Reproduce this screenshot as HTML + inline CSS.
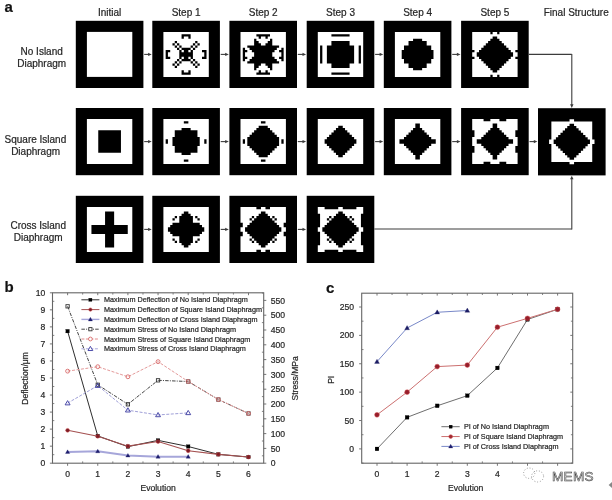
<!DOCTYPE html>
<html><head><meta charset="utf-8"><title>Diaphragm topology evolution</title>
<style>
html,body{margin:0;padding:0;background:#fff;width:612px;height:500px;overflow:hidden}
svg{display:block;font-family:'Liberation Sans',Arial,sans-serif}
text{stroke:#333;stroke-width:0.22px}
</style></head><body><div id="wrap">
<svg width="612" height="500" viewBox="0 0 612 500">
<rect width="612" height="500" fill="#fff"/>
<rect x="75.80" y="20.80" width="67.6" height="67.2" fill="#000"/>
<rect x="86.90" y="31.90" width="45.40" height="45.00" fill="#fff"/>
<rect x="152.30" y="20.80" width="67.6" height="67.2" fill="#000"/>
<g transform="translate(163.40,31.90)"><path fill="#fff" d="M0.00,0.00H45.40V2.25H0.00ZM0.00,2.25H18.16V4.50H0.00ZM27.24,2.25H45.40V4.50H27.24ZM0.00,4.50H18.16V6.75H0.00ZM20.43,4.50H24.97V6.75H20.43ZM27.24,4.50H45.40V6.75H27.24ZM0.00,6.75H45.40V9.00H0.00ZM0.00,9.00H11.35V11.25H0.00ZM13.62,9.00H31.78V11.25H13.62ZM34.05,9.00H45.40V11.25H34.05ZM0.00,11.25H9.08V13.50H0.00ZM11.35,11.25H13.62V13.50H11.35ZM15.89,11.25H29.51V13.50H15.89ZM31.78,11.25H34.05V13.50H31.78ZM36.32,11.25H45.40V13.50H36.32ZM0.00,13.50H11.35V15.75H0.00ZM13.62,13.50H15.89V15.75H13.62ZM18.16,13.50H27.24V15.75H18.16ZM29.51,13.50H31.78V15.75H29.51ZM34.05,13.50H45.40V15.75H34.05ZM0.00,15.75H13.62V18.00H0.00ZM15.89,15.75H18.16V18.00H15.89ZM27.24,15.75H29.51V18.00H27.24ZM31.78,15.75H45.40V18.00H31.78ZM0.00,18.00H2.27V20.25H0.00ZM6.81,18.00H15.89V20.25H6.81ZM18.16,18.00H20.43V20.25H18.16ZM24.97,18.00H27.24V20.25H24.97ZM29.51,18.00H38.59V20.25H29.51ZM43.13,18.00H45.40V20.25H43.13ZM0.00,20.25H2.27V22.50H0.00ZM4.54,20.25H15.89V22.50H4.54ZM29.51,20.25H40.86V22.50H29.51ZM43.13,20.25H45.40V22.50H43.13ZM0.00,22.50H2.27V24.75H0.00ZM4.54,22.50H15.89V24.75H4.54ZM29.51,22.50H40.86V24.75H29.51ZM43.13,22.50H45.40V24.75H43.13ZM0.00,24.75H2.27V27.00H0.00ZM6.81,24.75H15.89V27.00H6.81ZM18.16,24.75H20.43V27.00H18.16ZM24.97,24.75H27.24V27.00H24.97ZM29.51,24.75H38.59V27.00H29.51ZM43.13,24.75H45.40V27.00H43.13ZM0.00,27.00H13.62V29.25H0.00ZM15.89,27.00H18.16V29.25H15.89ZM27.24,27.00H29.51V29.25H27.24ZM31.78,27.00H45.40V29.25H31.78ZM0.00,29.25H11.35V31.50H0.00ZM13.62,29.25H15.89V31.50H13.62ZM18.16,29.25H27.24V31.50H18.16ZM29.51,29.25H31.78V31.50H29.51ZM34.05,29.25H45.40V31.50H34.05ZM0.00,31.50H9.08V33.75H0.00ZM11.35,31.50H13.62V33.75H11.35ZM15.89,31.50H29.51V33.75H15.89ZM31.78,31.50H34.05V33.75H31.78ZM36.32,31.50H45.40V33.75H36.32ZM0.00,33.75H11.35V36.00H0.00ZM13.62,33.75H31.78V36.00H13.62ZM34.05,33.75H45.40V36.00H34.05ZM0.00,36.00H45.40V38.25H0.00ZM0.00,38.25H18.16V40.50H0.00ZM20.43,38.25H24.97V40.50H20.43ZM27.24,38.25H45.40V40.50H27.24ZM0.00,40.50H18.16V42.75H0.00ZM27.24,40.50H45.40V42.75H27.24ZM0.00,42.75H45.40V45.00H0.00Z"/></g>
<rect x="229.40" y="20.80" width="67.6" height="67.2" fill="#000"/>
<g transform="translate(240.50,31.90)"><path fill="#fff" d="M0.00,0.00H45.40V2.25H0.00ZM0.00,2.25H15.89V4.50H0.00ZM29.51,2.25H45.40V4.50H29.51ZM0.00,4.50H18.16V6.75H0.00ZM20.43,4.50H24.97V6.75H20.43ZM27.24,4.50H45.40V6.75H27.24ZM0.00,6.75H13.62V9.00H0.00ZM15.89,6.75H29.51V9.00H15.89ZM31.78,6.75H45.40V9.00H31.78ZM0.00,9.00H13.62V11.25H0.00ZM18.16,9.00H27.24V11.25H18.16ZM31.78,9.00H45.40V11.25H31.78ZM0.00,11.25H13.62V13.50H0.00ZM20.43,11.25H24.97V13.50H20.43ZM31.78,11.25H45.40V13.50H31.78ZM0.00,13.50H6.81V15.75H0.00ZM38.59,13.50H45.40V15.75H38.59ZM0.00,15.75H2.27V18.00H0.00ZM4.54,15.75H9.08V18.00H4.54ZM36.32,15.75H40.86V18.00H36.32ZM43.13,15.75H45.40V18.00H43.13ZM0.00,18.00H2.27V20.25H0.00ZM6.81,18.00H11.35V20.25H6.81ZM34.05,18.00H38.59V20.25H34.05ZM43.13,18.00H45.40V20.25H43.13ZM0.00,20.25H2.27V22.50H0.00ZM4.54,20.25H13.62V22.50H4.54ZM31.78,20.25H40.86V22.50H31.78ZM43.13,20.25H45.40V22.50H43.13ZM0.00,22.50H2.27V24.75H0.00ZM4.54,22.50H13.62V24.75H4.54ZM31.78,22.50H40.86V24.75H31.78ZM43.13,22.50H45.40V24.75H43.13ZM0.00,24.75H2.27V27.00H0.00ZM6.81,24.75H11.35V27.00H6.81ZM34.05,24.75H38.59V27.00H34.05ZM43.13,24.75H45.40V27.00H43.13ZM0.00,27.00H2.27V29.25H0.00ZM4.54,27.00H9.08V29.25H4.54ZM36.32,27.00H40.86V29.25H36.32ZM43.13,27.00H45.40V29.25H43.13ZM0.00,29.25H6.81V31.50H0.00ZM38.59,29.25H45.40V31.50H38.59ZM0.00,31.50H13.62V33.75H0.00ZM20.43,31.50H24.97V33.75H20.43ZM31.78,31.50H45.40V33.75H31.78ZM0.00,33.75H13.62V36.00H0.00ZM18.16,33.75H27.24V36.00H18.16ZM31.78,33.75H45.40V36.00H31.78ZM0.00,36.00H13.62V38.25H0.00ZM15.89,36.00H29.51V38.25H15.89ZM31.78,36.00H45.40V38.25H31.78ZM0.00,38.25H18.16V40.50H0.00ZM20.43,38.25H24.97V40.50H20.43ZM27.24,38.25H45.40V40.50H27.24ZM0.00,40.50H15.89V42.75H0.00ZM29.51,40.50H45.40V42.75H29.51ZM0.00,42.75H45.40V45.00H0.00Z"/></g>
<rect x="306.70" y="20.80" width="67.6" height="67.2" fill="#000"/>
<g transform="translate(317.80,31.90)"><path fill="#fff" d="M0.00,0.00H45.40V2.25H0.00ZM0.00,2.25H13.62V4.50H0.00ZM31.78,2.25H45.40V4.50H31.78ZM0.00,4.50H45.40V6.75H0.00ZM0.00,6.75H45.40V9.00H0.00ZM0.00,9.00H13.62V11.25H0.00ZM31.78,9.00H45.40V11.25H31.78ZM0.00,11.25H13.62V13.50H0.00ZM31.78,11.25H45.40V13.50H31.78ZM0.00,13.50H2.27V15.75H0.00ZM4.54,13.50H9.08V15.75H4.54ZM36.32,13.50H40.86V15.75H36.32ZM43.13,13.50H45.40V15.75H43.13ZM0.00,15.75H2.27V18.00H0.00ZM4.54,15.75H9.08V18.00H4.54ZM36.32,15.75H40.86V18.00H36.32ZM43.13,15.75H45.40V18.00H43.13ZM0.00,18.00H2.27V20.25H0.00ZM4.54,18.00H9.08V20.25H4.54ZM36.32,18.00H40.86V20.25H36.32ZM43.13,18.00H45.40V20.25H43.13ZM0.00,20.25H2.27V22.50H0.00ZM4.54,20.25H9.08V22.50H4.54ZM36.32,20.25H40.86V22.50H36.32ZM43.13,20.25H45.40V22.50H43.13ZM0.00,22.50H2.27V24.75H0.00ZM4.54,22.50H9.08V24.75H4.54ZM36.32,22.50H40.86V24.75H36.32ZM43.13,22.50H45.40V24.75H43.13ZM0.00,24.75H2.27V27.00H0.00ZM4.54,24.75H9.08V27.00H4.54ZM36.32,24.75H40.86V27.00H36.32ZM43.13,24.75H45.40V27.00H43.13ZM0.00,27.00H2.27V29.25H0.00ZM4.54,27.00H9.08V29.25H4.54ZM36.32,27.00H40.86V29.25H36.32ZM43.13,27.00H45.40V29.25H43.13ZM0.00,29.25H2.27V31.50H0.00ZM4.54,29.25H9.08V31.50H4.54ZM36.32,29.25H40.86V31.50H36.32ZM43.13,29.25H45.40V31.50H43.13ZM0.00,31.50H13.62V33.75H0.00ZM31.78,31.50H45.40V33.75H31.78ZM0.00,33.75H13.62V36.00H0.00ZM31.78,33.75H45.40V36.00H31.78ZM0.00,36.00H45.40V38.25H0.00ZM0.00,38.25H45.40V40.50H0.00ZM0.00,40.50H13.62V42.75H0.00ZM31.78,40.50H45.40V42.75H31.78ZM0.00,42.75H45.40V45.00H0.00Z"/></g>
<rect x="383.80" y="20.80" width="67.6" height="67.2" fill="#000"/>
<g transform="translate(394.90,31.90)"><path fill="#fff" d="M0.00,0.00H45.40V2.25H0.00ZM0.00,2.25H45.40V4.50H0.00ZM0.00,4.50H45.40V6.75H0.00ZM0.00,6.75H18.16V9.00H0.00ZM27.24,6.75H45.40V9.00H27.24ZM0.00,9.00H13.62V11.25H0.00ZM31.78,9.00H45.40V11.25H31.78ZM0.00,11.25H13.62V13.50H0.00ZM31.78,11.25H45.40V13.50H31.78ZM0.00,13.50H9.08V15.75H0.00ZM36.32,13.50H45.40V15.75H36.32ZM0.00,15.75H9.08V18.00H0.00ZM36.32,15.75H45.40V18.00H36.32ZM0.00,18.00H6.81V20.25H0.00ZM38.59,18.00H45.40V20.25H38.59ZM0.00,20.25H6.81V22.50H0.00ZM38.59,20.25H45.40V22.50H38.59ZM0.00,22.50H6.81V24.75H0.00ZM38.59,22.50H45.40V24.75H38.59ZM0.00,24.75H6.81V27.00H0.00ZM38.59,24.75H45.40V27.00H38.59ZM0.00,27.00H9.08V29.25H0.00ZM36.32,27.00H45.40V29.25H36.32ZM0.00,29.25H9.08V31.50H0.00ZM36.32,29.25H45.40V31.50H36.32ZM0.00,31.50H13.62V33.75H0.00ZM31.78,31.50H45.40V33.75H31.78ZM0.00,33.75H13.62V36.00H0.00ZM31.78,33.75H45.40V36.00H31.78ZM0.00,36.00H18.16V38.25H0.00ZM27.24,36.00H45.40V38.25H27.24ZM0.00,38.25H45.40V40.50H0.00ZM0.00,40.50H45.40V42.75H0.00ZM0.00,42.75H45.40V45.00H0.00Z"/></g>
<rect x="461.10" y="20.80" width="67.6" height="67.2" fill="#000"/>
<g transform="translate(472.20,31.90)"><path fill="#fff" d="M0.00,0.00H18.16V2.25H0.00ZM20.43,0.00H24.97V2.25H20.43ZM27.24,0.00H45.40V2.25H27.24ZM0.00,2.25H45.40V4.50H0.00ZM0.00,4.50H20.43V6.75H0.00ZM24.97,4.50H45.40V6.75H24.97ZM0.00,6.75H18.16V9.00H0.00ZM27.24,6.75H45.40V9.00H27.24ZM0.00,9.00H15.89V11.25H0.00ZM29.51,9.00H45.40V11.25H29.51ZM0.00,11.25H13.62V13.50H0.00ZM31.78,11.25H45.40V13.50H31.78ZM0.00,13.50H11.35V15.75H0.00ZM34.05,13.50H45.40V15.75H34.05ZM0.00,15.75H9.08V18.00H0.00ZM36.32,15.75H45.40V18.00H36.32ZM2.27,18.00H6.81V20.25H2.27ZM38.59,18.00H43.13V20.25H38.59ZM0.00,20.25H4.54V22.50H0.00ZM40.86,20.25H45.40V22.50H40.86ZM0.00,22.50H4.54V24.75H0.00ZM40.86,22.50H45.40V24.75H40.86ZM2.27,24.75H6.81V27.00H2.27ZM38.59,24.75H43.13V27.00H38.59ZM0.00,27.00H9.08V29.25H0.00ZM36.32,27.00H45.40V29.25H36.32ZM0.00,29.25H11.35V31.50H0.00ZM34.05,29.25H45.40V31.50H34.05ZM0.00,31.50H13.62V33.75H0.00ZM31.78,31.50H45.40V33.75H31.78ZM0.00,33.75H15.89V36.00H0.00ZM29.51,33.75H45.40V36.00H29.51ZM0.00,36.00H18.16V38.25H0.00ZM27.24,36.00H45.40V38.25H27.24ZM0.00,38.25H20.43V40.50H0.00ZM24.97,38.25H45.40V40.50H24.97ZM0.00,40.50H45.40V42.75H0.00ZM0.00,42.75H18.16V45.00H0.00ZM20.43,42.75H24.97V45.00H20.43ZM27.24,42.75H45.40V45.00H27.24Z"/></g>
<rect x="75.80" y="108.00" width="67.6" height="67.2" fill="#000"/>
<g transform="translate(86.90,119.10)"><path fill="#fff" d="M0.00,0.00H45.40V2.25H0.00ZM0.00,2.25H45.40V4.50H0.00ZM0.00,4.50H45.40V6.75H0.00ZM0.00,6.75H45.40V9.00H0.00ZM0.00,9.00H45.40V11.25H0.00ZM0.00,11.25H11.35V13.50H0.00ZM34.05,11.25H45.40V13.50H34.05ZM0.00,13.50H11.35V15.75H0.00ZM34.05,13.50H45.40V15.75H34.05ZM0.00,15.75H11.35V18.00H0.00ZM34.05,15.75H45.40V18.00H34.05ZM0.00,18.00H11.35V20.25H0.00ZM34.05,18.00H45.40V20.25H34.05ZM0.00,20.25H11.35V22.50H0.00ZM34.05,20.25H45.40V22.50H34.05ZM0.00,22.50H11.35V24.75H0.00ZM34.05,22.50H45.40V24.75H34.05ZM0.00,24.75H11.35V27.00H0.00ZM34.05,24.75H45.40V27.00H34.05ZM0.00,27.00H11.35V29.25H0.00ZM34.05,27.00H45.40V29.25H34.05ZM0.00,29.25H11.35V31.50H0.00ZM34.05,29.25H45.40V31.50H34.05ZM0.00,31.50H11.35V33.75H0.00ZM34.05,31.50H45.40V33.75H34.05ZM0.00,33.75H45.40V36.00H0.00ZM0.00,36.00H45.40V38.25H0.00ZM0.00,38.25H45.40V40.50H0.00ZM0.00,40.50H45.40V42.75H0.00ZM0.00,42.75H45.40V45.00H0.00Z"/></g>
<rect x="152.30" y="108.00" width="67.6" height="67.2" fill="#000"/>
<g transform="translate(163.40,119.10)"><path fill="#fff" d="M0.00,0.00H45.40V2.25H0.00ZM0.00,2.25H20.43V4.50H0.00ZM24.97,2.25H45.40V4.50H24.97ZM0.00,4.50H45.40V6.75H0.00ZM0.00,6.75H45.40V9.00H0.00ZM0.00,9.00H18.16V11.25H0.00ZM27.24,9.00H45.40V11.25H27.24ZM0.00,11.25H11.35V13.50H0.00ZM34.05,11.25H45.40V13.50H34.05ZM0.00,13.50H11.35V15.75H0.00ZM34.05,13.50H45.40V15.75H34.05ZM0.00,15.75H11.35V18.00H0.00ZM34.05,15.75H45.40V18.00H34.05ZM0.00,18.00H9.08V20.25H0.00ZM36.32,18.00H45.40V20.25H36.32ZM0.00,20.25H2.27V22.50H0.00ZM4.54,20.25H9.08V22.50H4.54ZM36.32,20.25H40.86V22.50H36.32ZM43.13,20.25H45.40V22.50H43.13ZM0.00,22.50H2.27V24.75H0.00ZM4.54,22.50H9.08V24.75H4.54ZM36.32,22.50H40.86V24.75H36.32ZM43.13,22.50H45.40V24.75H43.13ZM0.00,24.75H9.08V27.00H0.00ZM36.32,24.75H45.40V27.00H36.32ZM0.00,27.00H11.35V29.25H0.00ZM34.05,27.00H45.40V29.25H34.05ZM0.00,29.25H11.35V31.50H0.00ZM34.05,29.25H45.40V31.50H34.05ZM0.00,31.50H11.35V33.75H0.00ZM34.05,31.50H45.40V33.75H34.05ZM0.00,33.75H18.16V36.00H0.00ZM27.24,33.75H45.40V36.00H27.24ZM0.00,36.00H45.40V38.25H0.00ZM0.00,38.25H45.40V40.50H0.00ZM0.00,40.50H20.43V42.75H0.00ZM24.97,40.50H45.40V42.75H24.97ZM0.00,42.75H45.40V45.00H0.00Z"/></g>
<rect x="229.40" y="108.00" width="67.6" height="67.2" fill="#000"/>
<g transform="translate(240.50,119.10)"><path fill="#fff" d="M0.00,0.00H45.40V2.25H0.00ZM0.00,2.25H20.43V4.50H0.00ZM24.97,2.25H45.40V4.50H24.97ZM0.00,4.50H45.40V6.75H0.00ZM0.00,6.75H18.16V9.00H0.00ZM27.24,6.75H45.40V9.00H27.24ZM0.00,9.00H15.89V11.25H0.00ZM29.51,9.00H45.40V11.25H29.51ZM0.00,11.25H13.62V13.50H0.00ZM31.78,11.25H45.40V13.50H31.78ZM0.00,13.50H11.35V15.75H0.00ZM34.05,13.50H45.40V15.75H34.05ZM0.00,15.75H9.08V18.00H0.00ZM36.32,15.75H45.40V18.00H36.32ZM0.00,18.00H6.81V20.25H0.00ZM38.59,18.00H45.40V20.25H38.59ZM0.00,20.25H2.27V22.50H0.00ZM4.54,20.25H6.81V22.50H4.54ZM38.59,20.25H40.86V22.50H38.59ZM43.13,20.25H45.40V22.50H43.13ZM0.00,22.50H2.27V24.75H0.00ZM4.54,22.50H6.81V24.75H4.54ZM38.59,22.50H40.86V24.75H38.59ZM43.13,22.50H45.40V24.75H43.13ZM0.00,24.75H6.81V27.00H0.00ZM38.59,24.75H45.40V27.00H38.59ZM0.00,27.00H9.08V29.25H0.00ZM36.32,27.00H45.40V29.25H36.32ZM0.00,29.25H11.35V31.50H0.00ZM34.05,29.25H45.40V31.50H34.05ZM0.00,31.50H13.62V33.75H0.00ZM31.78,31.50H45.40V33.75H31.78ZM0.00,33.75H15.89V36.00H0.00ZM29.51,33.75H45.40V36.00H29.51ZM0.00,36.00H18.16V38.25H0.00ZM27.24,36.00H45.40V38.25H27.24ZM0.00,38.25H45.40V40.50H0.00ZM0.00,40.50H20.43V42.75H0.00ZM24.97,40.50H45.40V42.75H24.97ZM0.00,42.75H45.40V45.00H0.00Z"/></g>
<rect x="306.70" y="108.00" width="67.6" height="67.2" fill="#000"/>
<g transform="translate(317.80,119.10)"><path fill="#fff" d="M0.00,0.00H45.40V2.25H0.00ZM0.00,2.25H45.40V4.50H0.00ZM0.00,4.50H45.40V6.75H0.00ZM0.00,6.75H20.43V9.00H0.00ZM24.97,6.75H45.40V9.00H24.97ZM0.00,9.00H18.16V11.25H0.00ZM27.24,9.00H45.40V11.25H27.24ZM0.00,11.25H15.89V13.50H0.00ZM29.51,11.25H45.40V13.50H29.51ZM0.00,13.50H13.62V15.75H0.00ZM31.78,13.50H45.40V15.75H31.78ZM0.00,15.75H11.35V18.00H0.00ZM34.05,15.75H45.40V18.00H34.05ZM0.00,18.00H9.08V20.25H0.00ZM36.32,18.00H45.40V20.25H36.32ZM0.00,20.25H6.81V22.50H0.00ZM38.59,20.25H45.40V22.50H38.59ZM0.00,22.50H6.81V24.75H0.00ZM38.59,22.50H45.40V24.75H38.59ZM0.00,24.75H9.08V27.00H0.00ZM36.32,24.75H45.40V27.00H36.32ZM0.00,27.00H11.35V29.25H0.00ZM34.05,27.00H45.40V29.25H34.05ZM0.00,29.25H13.62V31.50H0.00ZM31.78,29.25H45.40V31.50H31.78ZM0.00,31.50H15.89V33.75H0.00ZM29.51,31.50H45.40V33.75H29.51ZM0.00,33.75H18.16V36.00H0.00ZM27.24,33.75H45.40V36.00H27.24ZM0.00,36.00H20.43V38.25H0.00ZM24.97,36.00H45.40V38.25H24.97ZM0.00,38.25H45.40V40.50H0.00ZM0.00,40.50H45.40V42.75H0.00ZM0.00,42.75H45.40V45.00H0.00Z"/></g>
<rect x="383.80" y="108.00" width="67.6" height="67.2" fill="#000"/>
<g transform="translate(394.90,119.10)"><path fill="#fff" d="M0.00,0.00H45.40V2.25H0.00ZM0.00,2.25H45.40V4.50H0.00ZM0.00,4.50H20.43V6.75H0.00ZM24.97,4.50H45.40V6.75H24.97ZM0.00,6.75H20.43V9.00H0.00ZM24.97,6.75H45.40V9.00H24.97ZM0.00,9.00H18.16V11.25H0.00ZM27.24,9.00H45.40V11.25H27.24ZM0.00,11.25H15.89V13.50H0.00ZM29.51,11.25H45.40V13.50H29.51ZM0.00,13.50H13.62V15.75H0.00ZM31.78,13.50H45.40V15.75H31.78ZM0.00,15.75H11.35V18.00H0.00ZM34.05,15.75H45.40V18.00H34.05ZM0.00,18.00H9.08V20.25H0.00ZM36.32,18.00H45.40V20.25H36.32ZM0.00,20.25H4.54V22.50H0.00ZM40.86,20.25H45.40V22.50H40.86ZM0.00,22.50H4.54V24.75H0.00ZM40.86,22.50H45.40V24.75H40.86ZM0.00,24.75H9.08V27.00H0.00ZM36.32,24.75H45.40V27.00H36.32ZM0.00,27.00H11.35V29.25H0.00ZM34.05,27.00H45.40V29.25H34.05ZM0.00,29.25H13.62V31.50H0.00ZM31.78,29.25H45.40V31.50H31.78ZM0.00,31.50H15.89V33.75H0.00ZM29.51,31.50H45.40V33.75H29.51ZM0.00,33.75H18.16V36.00H0.00ZM27.24,33.75H45.40V36.00H27.24ZM0.00,36.00H20.43V38.25H0.00ZM24.97,36.00H45.40V38.25H24.97ZM0.00,38.25H20.43V40.50H0.00ZM24.97,38.25H45.40V40.50H24.97ZM0.00,40.50H45.40V42.75H0.00ZM0.00,42.75H45.40V45.00H0.00Z"/></g>
<rect x="461.10" y="108.00" width="67.6" height="67.2" fill="#000"/>
<g transform="translate(472.20,119.10)"><path fill="#fff" d="M0.00,0.00H11.35V2.25H0.00ZM18.16,0.00H27.24V2.25H18.16ZM34.05,0.00H45.40V2.25H34.05ZM0.00,2.25H45.40V4.50H0.00ZM0.00,4.50H20.43V6.75H0.00ZM24.97,4.50H45.40V6.75H24.97ZM0.00,6.75H20.43V9.00H0.00ZM24.97,6.75H45.40V9.00H24.97ZM0.00,9.00H18.16V11.25H0.00ZM27.24,9.00H45.40V11.25H27.24ZM2.27,11.25H15.89V13.50H2.27ZM29.51,11.25H43.13V13.50H29.51ZM2.27,13.50H13.62V15.75H2.27ZM31.78,13.50H43.13V15.75H31.78ZM2.27,15.75H11.35V18.00H2.27ZM34.05,15.75H43.13V18.00H34.05ZM0.00,18.00H9.08V20.25H0.00ZM36.32,18.00H45.40V20.25H36.32ZM0.00,20.25H4.54V22.50H0.00ZM40.86,20.25H45.40V22.50H40.86ZM0.00,22.50H4.54V24.75H0.00ZM40.86,22.50H45.40V24.75H40.86ZM0.00,24.75H9.08V27.00H0.00ZM36.32,24.75H45.40V27.00H36.32ZM2.27,27.00H11.35V29.25H2.27ZM34.05,27.00H43.13V29.25H34.05ZM2.27,29.25H13.62V31.50H2.27ZM31.78,29.25H43.13V31.50H31.78ZM2.27,31.50H15.89V33.75H2.27ZM29.51,31.50H43.13V33.75H29.51ZM0.00,33.75H18.16V36.00H0.00ZM27.24,33.75H45.40V36.00H27.24ZM0.00,36.00H20.43V38.25H0.00ZM24.97,36.00H45.40V38.25H24.97ZM0.00,38.25H20.43V40.50H0.00ZM24.97,38.25H45.40V40.50H24.97ZM0.00,40.50H45.40V42.75H0.00ZM0.00,42.75H11.35V45.00H0.00ZM18.16,42.75H27.24V45.00H18.16ZM34.05,42.75H45.40V45.00H34.05Z"/></g>
<rect x="75.80" y="195.80" width="67.6" height="67.2" fill="#000"/>
<g transform="translate(86.90,206.90)"><path fill="#fff" d="M0.00,0.00H45.40V2.25H0.00ZM0.00,2.25H45.40V4.50H0.00ZM0.00,4.50H18.16V6.75H0.00ZM27.24,4.50H45.40V6.75H27.24ZM0.00,6.75H18.16V9.00H0.00ZM27.24,6.75H45.40V9.00H27.24ZM0.00,9.00H18.16V11.25H0.00ZM27.24,9.00H45.40V11.25H27.24ZM0.00,11.25H18.16V13.50H0.00ZM27.24,11.25H45.40V13.50H27.24ZM0.00,13.50H18.16V15.75H0.00ZM27.24,13.50H45.40V15.75H27.24ZM0.00,15.75H18.16V18.00H0.00ZM27.24,15.75H45.40V18.00H27.24ZM0.00,18.00H4.54V20.25H0.00ZM40.86,18.00H45.40V20.25H40.86ZM0.00,20.25H4.54V22.50H0.00ZM40.86,20.25H45.40V22.50H40.86ZM0.00,22.50H4.54V24.75H0.00ZM40.86,22.50H45.40V24.75H40.86ZM0.00,24.75H4.54V27.00H0.00ZM40.86,24.75H45.40V27.00H40.86ZM0.00,27.00H18.16V29.25H0.00ZM27.24,27.00H45.40V29.25H27.24ZM0.00,29.25H18.16V31.50H0.00ZM27.24,29.25H45.40V31.50H27.24ZM0.00,31.50H18.16V33.75H0.00ZM27.24,31.50H45.40V33.75H27.24ZM0.00,33.75H18.16V36.00H0.00ZM27.24,33.75H45.40V36.00H27.24ZM0.00,36.00H18.16V38.25H0.00ZM27.24,36.00H45.40V38.25H27.24ZM0.00,38.25H18.16V40.50H0.00ZM27.24,38.25H45.40V40.50H27.24ZM0.00,40.50H45.40V42.75H0.00ZM0.00,42.75H45.40V45.00H0.00Z"/></g>
<rect x="152.30" y="195.80" width="67.6" height="67.2" fill="#000"/>
<g transform="translate(163.40,206.90)"><path fill="#fff" d="M0.00,0.00H45.40V2.25H0.00ZM0.00,2.25H45.40V4.50H0.00ZM0.00,4.50H20.43V6.75H0.00ZM24.97,4.50H45.40V6.75H24.97ZM0.00,6.75H18.16V9.00H0.00ZM27.24,6.75H45.40V9.00H27.24ZM0.00,9.00H11.35V11.25H0.00ZM13.62,9.00H15.89V11.25H13.62ZM29.51,9.00H31.78V11.25H29.51ZM34.05,9.00H45.40V11.25H34.05ZM0.00,11.25H9.08V13.50H0.00ZM11.35,11.25H15.89V13.50H11.35ZM29.51,11.25H34.05V13.50H29.51ZM36.32,11.25H45.40V13.50H36.32ZM0.00,13.50H15.89V15.75H0.00ZM29.51,13.50H45.40V15.75H29.51ZM0.00,15.75H9.08V18.00H0.00ZM36.32,15.75H45.40V18.00H36.32ZM0.00,18.00H6.81V20.25H0.00ZM38.59,18.00H45.40V20.25H38.59ZM0.00,20.25H4.54V22.50H0.00ZM40.86,20.25H45.40V22.50H40.86ZM0.00,22.50H4.54V24.75H0.00ZM40.86,22.50H45.40V24.75H40.86ZM0.00,24.75H6.81V27.00H0.00ZM38.59,24.75H45.40V27.00H38.59ZM0.00,27.00H9.08V29.25H0.00ZM36.32,27.00H45.40V29.25H36.32ZM0.00,29.25H15.89V31.50H0.00ZM29.51,29.25H45.40V31.50H29.51ZM0.00,31.50H9.08V33.75H0.00ZM11.35,31.50H15.89V33.75H11.35ZM29.51,31.50H34.05V33.75H29.51ZM36.32,31.50H45.40V33.75H36.32ZM0.00,33.75H11.35V36.00H0.00ZM13.62,33.75H15.89V36.00H13.62ZM29.51,33.75H31.78V36.00H29.51ZM34.05,33.75H45.40V36.00H34.05ZM0.00,36.00H18.16V38.25H0.00ZM27.24,36.00H45.40V38.25H27.24ZM0.00,38.25H20.43V40.50H0.00ZM24.97,38.25H45.40V40.50H24.97ZM0.00,40.50H45.40V42.75H0.00ZM0.00,42.75H45.40V45.00H0.00Z"/></g>
<rect x="229.40" y="195.80" width="67.6" height="67.2" fill="#000"/>
<g transform="translate(240.50,206.90)"><path fill="#fff" d="M0.00,0.00H15.89V2.25H0.00ZM20.43,0.00H24.97V2.25H20.43ZM29.51,0.00H45.40V2.25H29.51ZM0.00,2.25H45.40V4.50H0.00ZM0.00,4.50H20.43V6.75H0.00ZM24.97,4.50H45.40V6.75H24.97ZM0.00,6.75H18.16V9.00H0.00ZM27.24,6.75H45.40V9.00H27.24ZM0.00,9.00H11.35V11.25H0.00ZM13.62,9.00H15.89V11.25H13.62ZM29.51,9.00H31.78V11.25H29.51ZM34.05,9.00H45.40V11.25H34.05ZM0.00,11.25H9.08V13.50H0.00ZM11.35,11.25H13.62V13.50H11.35ZM31.78,11.25H34.05V13.50H31.78ZM36.32,11.25H45.40V13.50H36.32ZM0.00,13.50H11.35V15.75H0.00ZM34.05,13.50H45.40V15.75H34.05ZM2.27,15.75H9.08V18.00H2.27ZM36.32,15.75H43.13V18.00H36.32ZM2.27,18.00H6.81V20.25H2.27ZM38.59,18.00H43.13V20.25H38.59ZM0.00,20.25H4.54V22.50H0.00ZM40.86,20.25H45.40V22.50H40.86ZM0.00,22.50H4.54V24.75H0.00ZM40.86,22.50H45.40V24.75H40.86ZM2.27,24.75H6.81V27.00H2.27ZM38.59,24.75H43.13V27.00H38.59ZM2.27,27.00H9.08V29.25H2.27ZM36.32,27.00H43.13V29.25H36.32ZM0.00,29.25H11.35V31.50H0.00ZM34.05,29.25H45.40V31.50H34.05ZM0.00,31.50H9.08V33.75H0.00ZM11.35,31.50H13.62V33.75H11.35ZM31.78,31.50H34.05V33.75H31.78ZM36.32,31.50H45.40V33.75H36.32ZM0.00,33.75H11.35V36.00H0.00ZM13.62,33.75H15.89V36.00H13.62ZM29.51,33.75H31.78V36.00H29.51ZM34.05,33.75H45.40V36.00H34.05ZM0.00,36.00H18.16V38.25H0.00ZM27.24,36.00H45.40V38.25H27.24ZM0.00,38.25H20.43V40.50H0.00ZM24.97,38.25H45.40V40.50H24.97ZM0.00,40.50H45.40V42.75H0.00ZM0.00,42.75H15.89V45.00H0.00ZM20.43,42.75H24.97V45.00H20.43ZM29.51,42.75H45.40V45.00H29.51Z"/></g>
<rect x="306.70" y="195.80" width="67.6" height="67.2" fill="#000"/>
<g transform="translate(317.80,206.90)"><path fill="#fff" d="M0.00,0.00H6.81V2.25H0.00ZM20.43,0.00H24.97V2.25H20.43ZM38.59,0.00H45.40V2.25H38.59ZM0.00,2.25H45.40V4.50H0.00ZM0.00,4.50H20.43V6.75H0.00ZM24.97,4.50H45.40V6.75H24.97ZM2.27,6.75H18.16V9.00H2.27ZM27.24,6.75H43.13V9.00H27.24ZM2.27,9.00H11.35V11.25H2.27ZM13.62,9.00H15.89V11.25H13.62ZM29.51,9.00H31.78V11.25H29.51ZM34.05,9.00H43.13V11.25H34.05ZM2.27,11.25H9.08V13.50H2.27ZM11.35,11.25H13.62V13.50H11.35ZM31.78,11.25H34.05V13.50H31.78ZM36.32,11.25H43.13V13.50H36.32ZM2.27,13.50H11.35V15.75H2.27ZM34.05,13.50H43.13V15.75H34.05ZM2.27,15.75H9.08V18.00H2.27ZM36.32,15.75H43.13V18.00H36.32ZM2.27,18.00H6.81V20.25H2.27ZM38.59,18.00H43.13V20.25H38.59ZM0.00,20.25H4.54V22.50H0.00ZM40.86,20.25H45.40V22.50H40.86ZM0.00,22.50H4.54V24.75H0.00ZM40.86,22.50H45.40V24.75H40.86ZM2.27,24.75H6.81V27.00H2.27ZM38.59,24.75H43.13V27.00H38.59ZM2.27,27.00H9.08V29.25H2.27ZM36.32,27.00H43.13V29.25H36.32ZM2.27,29.25H11.35V31.50H2.27ZM34.05,29.25H43.13V31.50H34.05ZM2.27,31.50H9.08V33.75H2.27ZM11.35,31.50H13.62V33.75H11.35ZM31.78,31.50H34.05V33.75H31.78ZM36.32,31.50H43.13V33.75H36.32ZM2.27,33.75H11.35V36.00H2.27ZM13.62,33.75H15.89V36.00H13.62ZM29.51,33.75H31.78V36.00H29.51ZM34.05,33.75H43.13V36.00H34.05ZM2.27,36.00H18.16V38.25H2.27ZM27.24,36.00H43.13V38.25H27.24ZM0.00,38.25H20.43V40.50H0.00ZM24.97,38.25H45.40V40.50H24.97ZM0.00,40.50H45.40V42.75H0.00ZM0.00,42.75H6.81V45.00H0.00ZM20.43,42.75H24.97V45.00H20.43ZM38.59,42.75H45.40V45.00H38.59Z"/></g>
<rect x="538.00" y="108.20" width="67.6" height="67.2" fill="#000"/>
<g transform="translate(549.10,119.30)"><path fill="#fff" d="M20.43,0.00H24.97V2.25H20.43ZM2.27,2.25H43.13V4.50H2.27ZM2.27,4.50H20.43V6.75H2.27ZM24.97,4.50H43.13V6.75H24.97ZM2.27,6.75H18.16V9.00H2.27ZM27.24,6.75H43.13V9.00H27.24ZM2.27,9.00H15.89V11.25H2.27ZM29.51,9.00H43.13V11.25H29.51ZM2.27,11.25H13.62V13.50H2.27ZM31.78,11.25H43.13V13.50H31.78ZM2.27,13.50H11.35V15.75H2.27ZM34.05,13.50H43.13V15.75H34.05ZM2.27,15.75H9.08V18.00H2.27ZM36.32,15.75H43.13V18.00H36.32ZM2.27,18.00H6.81V20.25H2.27ZM38.59,18.00H43.13V20.25H38.59ZM0.00,20.25H4.54V22.50H0.00ZM40.86,20.25H45.40V22.50H40.86ZM0.00,22.50H4.54V24.75H0.00ZM40.86,22.50H45.40V24.75H40.86ZM2.27,24.75H6.81V27.00H2.27ZM38.59,24.75H43.13V27.00H38.59ZM2.27,27.00H9.08V29.25H2.27ZM36.32,27.00H43.13V29.25H36.32ZM2.27,29.25H11.35V31.50H2.27ZM34.05,29.25H43.13V31.50H34.05ZM2.27,31.50H13.62V33.75H2.27ZM31.78,31.50H43.13V33.75H31.78ZM2.27,33.75H15.89V36.00H2.27ZM29.51,33.75H43.13V36.00H29.51ZM2.27,36.00H18.16V38.25H2.27ZM27.24,36.00H43.13V38.25H27.24ZM2.27,38.25H20.43V40.50H2.27ZM24.97,38.25H43.13V40.50H24.97ZM2.27,40.50H43.13V42.75H2.27ZM20.43,42.75H24.97V45.00H20.43Z"/></g>
<line x1="144.20" y1="54.40" x2="149.20" y2="54.40" stroke="#3c3c3c" stroke-width="1.1"/>
<path d="M148.10,52.70 L151.70,54.40 L148.10,56.10 Z" fill="#3c3c3c"/>
<line x1="220.70" y1="54.40" x2="226.30" y2="54.40" stroke="#3c3c3c" stroke-width="1.1"/>
<path d="M225.20,52.70 L228.80,54.40 L225.20,56.10 Z" fill="#3c3c3c"/>
<line x1="297.80" y1="54.40" x2="303.60" y2="54.40" stroke="#3c3c3c" stroke-width="1.1"/>
<path d="M302.50,52.70 L306.10,54.40 L302.50,56.10 Z" fill="#3c3c3c"/>
<line x1="375.10" y1="54.40" x2="380.70" y2="54.40" stroke="#3c3c3c" stroke-width="1.1"/>
<path d="M379.60,52.70 L383.20,54.40 L379.60,56.10 Z" fill="#3c3c3c"/>
<line x1="452.20" y1="54.40" x2="458.00" y2="54.40" stroke="#3c3c3c" stroke-width="1.1"/>
<path d="M456.90,52.70 L460.50,54.40 L456.90,56.10 Z" fill="#3c3c3c"/>
<line x1="144.20" y1="141.60" x2="149.20" y2="141.60" stroke="#3c3c3c" stroke-width="1.1"/>
<path d="M148.10,139.90 L151.70,141.60 L148.10,143.30 Z" fill="#3c3c3c"/>
<line x1="220.70" y1="141.60" x2="226.30" y2="141.60" stroke="#3c3c3c" stroke-width="1.1"/>
<path d="M225.20,139.90 L228.80,141.60 L225.20,143.30 Z" fill="#3c3c3c"/>
<line x1="297.80" y1="141.60" x2="303.60" y2="141.60" stroke="#3c3c3c" stroke-width="1.1"/>
<path d="M302.50,139.90 L306.10,141.60 L302.50,143.30 Z" fill="#3c3c3c"/>
<line x1="375.10" y1="141.60" x2="380.70" y2="141.60" stroke="#3c3c3c" stroke-width="1.1"/>
<path d="M379.60,139.90 L383.20,141.60 L379.60,143.30 Z" fill="#3c3c3c"/>
<line x1="452.20" y1="141.60" x2="458.00" y2="141.60" stroke="#3c3c3c" stroke-width="1.1"/>
<path d="M456.90,139.90 L460.50,141.60 L456.90,143.30 Z" fill="#3c3c3c"/>
<line x1="144.20" y1="229.40" x2="149.20" y2="229.40" stroke="#3c3c3c" stroke-width="1.1"/>
<path d="M148.10,227.70 L151.70,229.40 L148.10,231.10 Z" fill="#3c3c3c"/>
<line x1="220.70" y1="229.40" x2="226.30" y2="229.40" stroke="#3c3c3c" stroke-width="1.1"/>
<path d="M225.20,227.70 L228.80,229.40 L225.20,231.10 Z" fill="#3c3c3c"/>
<line x1="297.80" y1="229.40" x2="303.60" y2="229.40" stroke="#3c3c3c" stroke-width="1.1"/>
<path d="M302.50,227.70 L306.10,229.40 L302.50,231.10 Z" fill="#3c3c3c"/>
<line x1="529.50" y1="141.60" x2="534.90" y2="141.60" stroke="#3c3c3c" stroke-width="1.1"/>
<path d="M533.80,139.90 L537.40,141.60 L533.80,143.30 Z" fill="#3c3c3c"/>
<line x1="528.70" y1="54.40" x2="571.80" y2="54.40" stroke="#3c3c3c" stroke-width="1.1"/>
<line x1="571.80" y1="53.90" x2="571.80" y2="105.40" stroke="#3c3c3c" stroke-width="1.1"/>
<path d="M570.10,104.30 L571.80,107.90 L573.50,104.30 Z" fill="#3c3c3c"/>
<line x1="374.30" y1="229.00" x2="571.80" y2="229.00" stroke="#3c3c3c" stroke-width="1.1"/>
<line x1="571.80" y1="229.50" x2="571.80" y2="178.20" stroke="#3c3c3c" stroke-width="1.1"/>
<path d="M570.10,179.30 L571.80,175.70 L573.50,179.30 Z" fill="#3c3c3c"/>
<text x="4.40" y="11.90" font-size="15" text-anchor="start" font-weight="bold" fill="#111" >a</text>
<text x="109.60" y="15.60" font-size="10" text-anchor="middle" font-weight="normal" fill="#222" >Initial</text>
<text x="186.10" y="15.60" font-size="10" text-anchor="middle" font-weight="normal" fill="#222" >Step 1</text>
<text x="263.20" y="15.60" font-size="10" text-anchor="middle" font-weight="normal" fill="#222" >Step 2</text>
<text x="340.50" y="15.60" font-size="10" text-anchor="middle" font-weight="normal" fill="#222" >Step 3</text>
<text x="417.60" y="15.60" font-size="10" text-anchor="middle" font-weight="normal" fill="#222" >Step 4</text>
<text x="494.90" y="15.60" font-size="10" text-anchor="middle" font-weight="normal" fill="#222" >Step 5</text>
<text x="576.20" y="15.60" font-size="10" text-anchor="middle" font-weight="normal" fill="#222" >Final Structure</text>
<text x="41.70" y="55.30" font-size="10" text-anchor="middle" font-weight="normal" fill="#222" >No Island</text>
<text x="41.70" y="67.00" font-size="10" text-anchor="middle" font-weight="normal" fill="#222" >Diaphragm</text>
<text x="35.40" y="142.50" font-size="10" text-anchor="middle" font-weight="normal" fill="#222" >Square Island</text>
<text x="35.60" y="154.60" font-size="10" text-anchor="middle" font-weight="normal" fill="#222" >Diaphragm</text>
<text x="38.20" y="229.30" font-size="10" text-anchor="middle" font-weight="normal" fill="#222" >Cross Island</text>
<text x="38.20" y="241.40" font-size="10" text-anchor="middle" font-weight="normal" fill="#222" >Diaphragm</text>
<text x="4.50" y="292.00" font-size="15" text-anchor="start" font-weight="bold" fill="#111" >b</text>
<rect x="52.5" y="292.8" width="211.20" height="170.40" fill="none" stroke="#666" stroke-width="1.1"/>
<line x1="49.9" y1="463.20" x2="52.5" y2="463.20" stroke="#666" stroke-width="0.9"/>
<text x="45.30" y="466.30" font-size="8.6" text-anchor="end" font-weight="normal" fill="#222" >0</text>
<line x1="49.9" y1="446.16" x2="52.5" y2="446.16" stroke="#666" stroke-width="0.9"/>
<text x="45.30" y="449.26" font-size="8.6" text-anchor="end" font-weight="normal" fill="#222" >1</text>
<line x1="49.9" y1="429.12" x2="52.5" y2="429.12" stroke="#666" stroke-width="0.9"/>
<text x="45.30" y="432.22" font-size="8.6" text-anchor="end" font-weight="normal" fill="#222" >2</text>
<line x1="49.9" y1="412.08" x2="52.5" y2="412.08" stroke="#666" stroke-width="0.9"/>
<text x="45.30" y="415.18" font-size="8.6" text-anchor="end" font-weight="normal" fill="#222" >3</text>
<line x1="49.9" y1="395.04" x2="52.5" y2="395.04" stroke="#666" stroke-width="0.9"/>
<text x="45.30" y="398.14" font-size="8.6" text-anchor="end" font-weight="normal" fill="#222" >4</text>
<line x1="49.9" y1="378.00" x2="52.5" y2="378.00" stroke="#666" stroke-width="0.9"/>
<text x="45.30" y="381.10" font-size="8.6" text-anchor="end" font-weight="normal" fill="#222" >5</text>
<line x1="49.9" y1="360.96" x2="52.5" y2="360.96" stroke="#666" stroke-width="0.9"/>
<text x="45.30" y="364.06" font-size="8.6" text-anchor="end" font-weight="normal" fill="#222" >6</text>
<line x1="49.9" y1="343.92" x2="52.5" y2="343.92" stroke="#666" stroke-width="0.9"/>
<text x="45.30" y="347.02" font-size="8.6" text-anchor="end" font-weight="normal" fill="#222" >7</text>
<line x1="49.9" y1="326.88" x2="52.5" y2="326.88" stroke="#666" stroke-width="0.9"/>
<text x="45.30" y="329.98" font-size="8.6" text-anchor="end" font-weight="normal" fill="#222" >8</text>
<line x1="49.9" y1="309.84" x2="52.5" y2="309.84" stroke="#666" stroke-width="0.9"/>
<text x="45.30" y="312.94" font-size="8.6" text-anchor="end" font-weight="normal" fill="#222" >9</text>
<line x1="49.9" y1="292.80" x2="52.5" y2="292.80" stroke="#666" stroke-width="0.9"/>
<text x="45.30" y="295.90" font-size="8.6" text-anchor="end" font-weight="normal" fill="#222" >10</text>
<line x1="52.5" y1="454.68" x2="54.3" y2="454.68" stroke="#666" stroke-width="0.8"/>
<line x1="52.5" y1="437.64" x2="54.3" y2="437.64" stroke="#666" stroke-width="0.8"/>
<line x1="52.5" y1="420.60" x2="54.3" y2="420.60" stroke="#666" stroke-width="0.8"/>
<line x1="52.5" y1="403.56" x2="54.3" y2="403.56" stroke="#666" stroke-width="0.8"/>
<line x1="52.5" y1="386.52" x2="54.3" y2="386.52" stroke="#666" stroke-width="0.8"/>
<line x1="52.5" y1="369.48" x2="54.3" y2="369.48" stroke="#666" stroke-width="0.8"/>
<line x1="52.5" y1="352.44" x2="54.3" y2="352.44" stroke="#666" stroke-width="0.8"/>
<line x1="52.5" y1="335.40" x2="54.3" y2="335.40" stroke="#666" stroke-width="0.8"/>
<line x1="52.5" y1="318.36" x2="54.3" y2="318.36" stroke="#666" stroke-width="0.8"/>
<line x1="52.5" y1="301.32" x2="54.3" y2="301.32" stroke="#666" stroke-width="0.8"/>
<line x1="263.7" y1="463.20" x2="266.3" y2="463.20" stroke="#666" stroke-width="0.9"/>
<text x="270.70" y="466.30" font-size="8.6" text-anchor="start" font-weight="normal" fill="#222" >0</text>
<line x1="263.7" y1="448.40" x2="266.3" y2="448.40" stroke="#666" stroke-width="0.9"/>
<text x="270.70" y="451.50" font-size="8.6" text-anchor="start" font-weight="normal" fill="#222" >50</text>
<line x1="263.7" y1="433.60" x2="266.3" y2="433.60" stroke="#666" stroke-width="0.9"/>
<text x="270.70" y="436.70" font-size="8.6" text-anchor="start" font-weight="normal" fill="#222" >100</text>
<line x1="263.7" y1="418.80" x2="266.3" y2="418.80" stroke="#666" stroke-width="0.9"/>
<text x="270.70" y="421.90" font-size="8.6" text-anchor="start" font-weight="normal" fill="#222" >150</text>
<line x1="263.7" y1="404.00" x2="266.3" y2="404.00" stroke="#666" stroke-width="0.9"/>
<text x="270.70" y="407.10" font-size="8.6" text-anchor="start" font-weight="normal" fill="#222" >200</text>
<line x1="263.7" y1="389.20" x2="266.3" y2="389.20" stroke="#666" stroke-width="0.9"/>
<text x="270.70" y="392.30" font-size="8.6" text-anchor="start" font-weight="normal" fill="#222" >250</text>
<line x1="263.7" y1="374.40" x2="266.3" y2="374.40" stroke="#666" stroke-width="0.9"/>
<text x="270.70" y="377.50" font-size="8.6" text-anchor="start" font-weight="normal" fill="#222" >300</text>
<line x1="263.7" y1="359.60" x2="266.3" y2="359.60" stroke="#666" stroke-width="0.9"/>
<text x="270.70" y="362.70" font-size="8.6" text-anchor="start" font-weight="normal" fill="#222" >350</text>
<line x1="263.7" y1="344.80" x2="266.3" y2="344.80" stroke="#666" stroke-width="0.9"/>
<text x="270.70" y="347.90" font-size="8.6" text-anchor="start" font-weight="normal" fill="#222" >400</text>
<line x1="263.7" y1="330.00" x2="266.3" y2="330.00" stroke="#666" stroke-width="0.9"/>
<text x="270.70" y="333.10" font-size="8.6" text-anchor="start" font-weight="normal" fill="#222" >450</text>
<line x1="263.7" y1="315.20" x2="266.3" y2="315.20" stroke="#666" stroke-width="0.9"/>
<text x="270.70" y="318.30" font-size="8.6" text-anchor="start" font-weight="normal" fill="#222" >500</text>
<line x1="263.7" y1="300.40" x2="266.3" y2="300.40" stroke="#666" stroke-width="0.9"/>
<text x="270.70" y="303.50" font-size="8.6" text-anchor="start" font-weight="normal" fill="#222" >550</text>
<line x1="261.9" y1="455.80" x2="263.7" y2="455.80" stroke="#666" stroke-width="0.8"/>
<line x1="261.9" y1="441.00" x2="263.7" y2="441.00" stroke="#666" stroke-width="0.8"/>
<line x1="261.9" y1="426.20" x2="263.7" y2="426.20" stroke="#666" stroke-width="0.8"/>
<line x1="261.9" y1="411.40" x2="263.7" y2="411.40" stroke="#666" stroke-width="0.8"/>
<line x1="261.9" y1="396.60" x2="263.7" y2="396.60" stroke="#666" stroke-width="0.8"/>
<line x1="261.9" y1="381.80" x2="263.7" y2="381.80" stroke="#666" stroke-width="0.8"/>
<line x1="261.9" y1="367.00" x2="263.7" y2="367.00" stroke="#666" stroke-width="0.8"/>
<line x1="261.9" y1="352.20" x2="263.7" y2="352.20" stroke="#666" stroke-width="0.8"/>
<line x1="261.9" y1="337.40" x2="263.7" y2="337.40" stroke="#666" stroke-width="0.8"/>
<line x1="261.9" y1="322.60" x2="263.7" y2="322.60" stroke="#666" stroke-width="0.8"/>
<line x1="261.9" y1="307.80" x2="263.7" y2="307.80" stroke="#666" stroke-width="0.8"/>
<line x1="261.9" y1="293.00" x2="263.7" y2="293.00" stroke="#666" stroke-width="0.8"/>
<line x1="67.60" y1="463.2" x2="67.60" y2="465.8" stroke="#666" stroke-width="0.9"/>
<line x1="67.60" y1="292.8" x2="67.60" y2="295.2" stroke="#666" stroke-width="0.9"/>
<text x="67.60" y="477.30" font-size="8.6" text-anchor="middle" font-weight="normal" fill="#222" >0</text>
<line x1="97.75" y1="463.2" x2="97.75" y2="465.8" stroke="#666" stroke-width="0.9"/>
<line x1="97.75" y1="292.8" x2="97.75" y2="295.2" stroke="#666" stroke-width="0.9"/>
<text x="97.75" y="477.30" font-size="8.6" text-anchor="middle" font-weight="normal" fill="#222" >1</text>
<line x1="127.90" y1="463.2" x2="127.90" y2="465.8" stroke="#666" stroke-width="0.9"/>
<line x1="127.90" y1="292.8" x2="127.90" y2="295.2" stroke="#666" stroke-width="0.9"/>
<text x="127.90" y="477.30" font-size="8.6" text-anchor="middle" font-weight="normal" fill="#222" >2</text>
<line x1="158.05" y1="463.2" x2="158.05" y2="465.8" stroke="#666" stroke-width="0.9"/>
<line x1="158.05" y1="292.8" x2="158.05" y2="295.2" stroke="#666" stroke-width="0.9"/>
<text x="158.05" y="477.30" font-size="8.6" text-anchor="middle" font-weight="normal" fill="#222" >3</text>
<line x1="188.20" y1="463.2" x2="188.20" y2="465.8" stroke="#666" stroke-width="0.9"/>
<line x1="188.20" y1="292.8" x2="188.20" y2="295.2" stroke="#666" stroke-width="0.9"/>
<text x="188.20" y="477.30" font-size="8.6" text-anchor="middle" font-weight="normal" fill="#222" >4</text>
<line x1="218.35" y1="463.2" x2="218.35" y2="465.8" stroke="#666" stroke-width="0.9"/>
<line x1="218.35" y1="292.8" x2="218.35" y2="295.2" stroke="#666" stroke-width="0.9"/>
<text x="218.35" y="477.30" font-size="8.6" text-anchor="middle" font-weight="normal" fill="#222" >5</text>
<line x1="248.50" y1="463.2" x2="248.50" y2="465.8" stroke="#666" stroke-width="0.9"/>
<line x1="248.50" y1="292.8" x2="248.50" y2="295.2" stroke="#666" stroke-width="0.9"/>
<text x="248.50" y="477.30" font-size="8.6" text-anchor="middle" font-weight="normal" fill="#222" >6</text>
<line x1="82.67" y1="461.4" x2="82.67" y2="463.2" stroke="#666" stroke-width="0.8"/>
<line x1="82.67" y1="292.8" x2="82.67" y2="294.6" stroke="#666" stroke-width="0.8"/>
<line x1="112.82" y1="461.4" x2="112.82" y2="463.2" stroke="#666" stroke-width="0.8"/>
<line x1="112.82" y1="292.8" x2="112.82" y2="294.6" stroke="#666" stroke-width="0.8"/>
<line x1="142.97" y1="461.4" x2="142.97" y2="463.2" stroke="#666" stroke-width="0.8"/>
<line x1="142.97" y1="292.8" x2="142.97" y2="294.6" stroke="#666" stroke-width="0.8"/>
<line x1="173.12" y1="461.4" x2="173.12" y2="463.2" stroke="#666" stroke-width="0.8"/>
<line x1="173.12" y1="292.8" x2="173.12" y2="294.6" stroke="#666" stroke-width="0.8"/>
<line x1="203.27" y1="461.4" x2="203.27" y2="463.2" stroke="#666" stroke-width="0.8"/>
<line x1="203.27" y1="292.8" x2="203.27" y2="294.6" stroke="#666" stroke-width="0.8"/>
<line x1="233.42" y1="461.4" x2="233.42" y2="463.2" stroke="#666" stroke-width="0.8"/>
<line x1="233.42" y1="292.8" x2="233.42" y2="294.6" stroke="#666" stroke-width="0.8"/>
<text x="158.10" y="490.50" font-size="8.6" text-anchor="middle" font-weight="normal" fill="#222" >Evolution</text>
<text transform="translate(28.3,378.4) rotate(-90)" font-size="8.6" text-anchor="middle" fill="#222">Deflection/μm</text>
<text transform="translate(297.9,378.4) rotate(-90)" font-size="8.6" text-anchor="middle" fill="#222">Stress/MPa</text>
<polyline points="67.60,331.14 97.75,435.94 127.90,446.67 158.05,440.37 188.20,446.50 218.35,454.34 248.50,457.07" fill="none" stroke="#2e2e2e" stroke-width="1.0" stroke-opacity="1"/>
<rect x="65.80" y="329.34" width="3.60" height="3.60" fill="#000" stroke="#000" stroke-width="0.2"/>
<rect x="95.95" y="434.14" width="3.60" height="3.60" fill="#000" stroke="#000" stroke-width="0.2"/>
<rect x="126.10" y="444.87" width="3.60" height="3.60" fill="#000" stroke="#000" stroke-width="0.2"/>
<rect x="156.25" y="438.57" width="3.60" height="3.60" fill="#000" stroke="#000" stroke-width="0.2"/>
<rect x="186.40" y="444.70" width="3.60" height="3.60" fill="#000" stroke="#000" stroke-width="0.2"/>
<rect x="216.55" y="452.54" width="3.60" height="3.60" fill="#000" stroke="#000" stroke-width="0.2"/>
<rect x="246.70" y="455.27" width="3.60" height="3.60" fill="#000" stroke="#000" stroke-width="0.2"/>
<polyline points="67.60,430.31 97.75,436.28 127.90,446.16 158.05,441.56 188.20,450.76 218.35,454.34 248.50,457.07" fill="none" stroke="#a45050" stroke-width="1.1" stroke-opacity="1"/>
<circle cx="67.60" cy="430.31" r="1.90" fill="#7c1c26" stroke="#c84848" stroke-width="0.5"/>
<circle cx="97.75" cy="436.28" r="1.90" fill="#7c1c26" stroke="#c84848" stroke-width="0.5"/>
<circle cx="127.90" cy="446.16" r="1.90" fill="#7c1c26" stroke="#c84848" stroke-width="0.5"/>
<circle cx="158.05" cy="441.56" r="1.90" fill="#7c1c26" stroke="#c84848" stroke-width="0.5"/>
<circle cx="188.20" cy="450.76" r="1.90" fill="#7c1c26" stroke="#c84848" stroke-width="0.5"/>
<circle cx="218.35" cy="454.34" r="1.90" fill="#7c1c26" stroke="#c84848" stroke-width="0.5"/>
<circle cx="248.50" cy="457.07" r="1.90" fill="#7c1c26" stroke="#c84848" stroke-width="0.5"/>
<polyline points="67.60,451.95 97.75,451.27 127.90,455.53 158.05,456.72 188.20,456.72" fill="none" stroke="#a6a6da" stroke-width="2.0" stroke-opacity="1"/>
<path d="M67.60,449.85 L69.70,453.45 L65.50,453.45 Z" fill="#1e1e6e" stroke="#1e1e6e" stroke-width="0.3" stroke-linejoin="miter"/>
<path d="M97.75,449.17 L99.85,452.77 L95.65,452.77 Z" fill="#1e1e6e" stroke="#1e1e6e" stroke-width="0.3" stroke-linejoin="miter"/>
<path d="M127.90,453.43 L130.00,457.03 L125.80,457.03 Z" fill="#1e1e6e" stroke="#1e1e6e" stroke-width="0.3" stroke-linejoin="miter"/>
<path d="M158.05,454.62 L160.15,458.22 L155.95,458.22 Z" fill="#1e1e6e" stroke="#1e1e6e" stroke-width="0.3" stroke-linejoin="miter"/>
<path d="M188.20,454.62 L190.30,458.22 L186.10,458.22 Z" fill="#1e1e6e" stroke="#1e1e6e" stroke-width="0.3" stroke-linejoin="miter"/>
<polyline points="67.60,306.32 97.75,384.76 127.90,404.30 158.05,380.32 188.20,381.50 218.35,399.56 248.50,413.47" fill="none" stroke="#444" stroke-width="1.0" stroke-dasharray="3.5,1.2,1,1.2" stroke-opacity="1"/>
<rect x="65.95" y="304.67" width="3.30" height="3.30" fill="none" stroke="#333" stroke-width="0.9"/>
<rect x="96.10" y="383.11" width="3.30" height="3.30" fill="none" stroke="#333" stroke-width="0.9"/>
<rect x="126.25" y="402.65" width="3.30" height="3.30" fill="none" stroke="#333" stroke-width="0.9"/>
<rect x="156.40" y="378.67" width="3.30" height="3.30" fill="none" stroke="#333" stroke-width="0.9"/>
<rect x="186.55" y="379.85" width="3.30" height="3.30" fill="none" stroke="#333" stroke-width="0.9"/>
<rect x="216.70" y="397.91" width="3.30" height="3.30" fill="none" stroke="#333" stroke-width="0.9"/>
<rect x="246.85" y="411.82" width="3.30" height="3.30" fill="none" stroke="#333" stroke-width="0.9"/>
<polyline points="67.60,371.14 97.75,366.70 127.90,376.77 158.05,361.67 188.20,381.50 218.35,399.56 248.50,413.47" fill="none" stroke="#e49a9a" stroke-width="1.0" stroke-dasharray="3,1.5" stroke-opacity="1"/>
<circle cx="67.60" cy="371.14" r="1.95" fill="none" stroke="#d86a6a" stroke-width="0.9"/>
<circle cx="97.75" cy="366.70" r="1.95" fill="none" stroke="#d86a6a" stroke-width="0.9"/>
<circle cx="127.90" cy="376.77" r="1.95" fill="none" stroke="#d86a6a" stroke-width="0.9"/>
<circle cx="158.05" cy="361.67" r="1.95" fill="none" stroke="#d86a6a" stroke-width="0.9"/>
<circle cx="188.20" cy="381.50" r="1.95" fill="none" stroke="#d86a6a" stroke-width="0.9"/>
<circle cx="218.35" cy="399.56" r="1.95" fill="none" stroke="#d86a6a" stroke-width="0.9"/>
<circle cx="248.50" cy="413.47" r="1.95" fill="none" stroke="#d86a6a" stroke-width="0.9"/>
<polyline points="67.60,403.11 97.75,385.65 127.90,410.22 158.05,414.95 188.20,412.88" fill="none" stroke="#a0a0d8" stroke-width="1.0" stroke-dasharray="3,1.5" stroke-opacity="1"/>
<path d="M67.60,400.64 L70.07,404.87 L65.13,404.87 Z" fill="none" stroke="#3a3aa0" stroke-width="0.9" stroke-linejoin="miter"/>
<path d="M97.75,383.18 L100.22,387.41 L95.28,387.41 Z" fill="none" stroke="#3a3aa0" stroke-width="0.9" stroke-linejoin="miter"/>
<path d="M127.90,407.75 L130.37,411.98 L125.43,411.98 Z" fill="none" stroke="#3a3aa0" stroke-width="0.9" stroke-linejoin="miter"/>
<path d="M158.05,412.48 L160.52,416.71 L155.58,416.71 Z" fill="none" stroke="#3a3aa0" stroke-width="0.9" stroke-linejoin="miter"/>
<path d="M188.20,410.41 L190.67,414.64 L185.73,414.64 Z" fill="none" stroke="#3a3aa0" stroke-width="0.9" stroke-linejoin="miter"/>
<polyline points="81.40,299.80 99.40,299.80" fill="none" stroke="#2e2e2e" stroke-width="1.0" stroke-opacity="1"/>
<rect x="88.80" y="298.20" width="3.20" height="3.20" fill="#000" stroke="#000" stroke-width="0.2"/>
<text x="104.00" y="302.40" font-size="7.25" text-anchor="start" font-weight="normal" fill="#222" >Maximum Deflection of No Island Diaphragm</text>
<polyline points="81.40,309.60 99.40,309.60" fill="none" stroke="#a45050" stroke-width="1.0" stroke-opacity="1"/>
<circle cx="90.40" cy="309.60" r="1.70" fill="#7c1c26" stroke="#c84848" stroke-width="0.5"/>
<text x="104.00" y="312.20" font-size="7.25" text-anchor="start" font-weight="normal" fill="#222" >Maximum Deflection of Square Island Diaphragm</text>
<polyline points="81.40,319.40 99.40,319.40" fill="none" stroke="#a6a6da" stroke-width="1.4" stroke-opacity="1"/>
<path d="M90.40,317.30 L92.50,320.90 L88.30,320.90 Z" fill="#1e1e6e" stroke="#1e1e6e" stroke-width="0.3" stroke-linejoin="miter"/>
<text x="104.00" y="322.00" font-size="7.25" text-anchor="start" font-weight="normal" fill="#222" >Maximum Deflection of Cross Island Diaphragm</text>
<polyline points="81.40,329.20 99.40,329.20" fill="none" stroke="#444" stroke-width="1.0" stroke-dasharray="3.5,1.2,1,1.2" stroke-opacity="1"/>
<rect x="88.80" y="327.60" width="3.20" height="3.20" fill="#fff" stroke="#333" stroke-width="0.9"/>
<text x="104.00" y="331.80" font-size="7.25" text-anchor="start" font-weight="normal" fill="#222" >Maximum Stress of No Island Diaphragm</text>
<polyline points="81.40,339.00 99.40,339.00" fill="none" stroke="#e08a8a" stroke-width="1.0" stroke-dasharray="3,1.5" stroke-opacity="1"/>
<circle cx="90.40" cy="339.00" r="1.90" fill="#fff" stroke="#d86a6a" stroke-width="0.9"/>
<text x="104.00" y="341.60" font-size="7.25" text-anchor="start" font-weight="normal" fill="#222" >Maximum Stress of Square Island Diaphragm</text>
<polyline points="81.40,348.80 99.40,348.80" fill="none" stroke="#a6a6da" stroke-width="1.0" stroke-dasharray="3,1.5" stroke-opacity="1"/>
<path d="M90.40,346.38 L92.82,350.53 L87.98,350.53 Z" fill="#fff" stroke="#3a3aa0" stroke-width="0.9" stroke-linejoin="miter"/>
<text x="104.00" y="351.40" font-size="7.25" text-anchor="start" font-weight="normal" fill="#222" >Maximum Stress of Cross Island Diaphragm</text>
<text x="326.00" y="292.50" font-size="15" text-anchor="start" font-weight="bold" fill="#111" >c</text>
<rect x="361.7" y="293.2" width="211.00" height="170.00" fill="none" stroke="#666" stroke-width="1.1"/>
<line x1="359.09999999999997" y1="448.90" x2="361.7" y2="448.90" stroke="#666" stroke-width="0.9"/>
<line x1="570.3000000000001" y1="448.90" x2="572.7" y2="448.90" stroke="#666" stroke-width="0.9"/>
<text x="354.10" y="452.00" font-size="8.6" text-anchor="end" font-weight="normal" fill="#222" >0</text>
<line x1="359.09999999999997" y1="420.52" x2="361.7" y2="420.52" stroke="#666" stroke-width="0.9"/>
<line x1="570.3000000000001" y1="420.52" x2="572.7" y2="420.52" stroke="#666" stroke-width="0.9"/>
<text x="354.10" y="423.62" font-size="8.6" text-anchor="end" font-weight="normal" fill="#222" >50</text>
<line x1="359.09999999999997" y1="392.14" x2="361.7" y2="392.14" stroke="#666" stroke-width="0.9"/>
<line x1="570.3000000000001" y1="392.14" x2="572.7" y2="392.14" stroke="#666" stroke-width="0.9"/>
<text x="354.10" y="395.24" font-size="8.6" text-anchor="end" font-weight="normal" fill="#222" >100</text>
<line x1="359.09999999999997" y1="363.76" x2="361.7" y2="363.76" stroke="#666" stroke-width="0.9"/>
<line x1="570.3000000000001" y1="363.76" x2="572.7" y2="363.76" stroke="#666" stroke-width="0.9"/>
<text x="354.10" y="366.86" font-size="8.6" text-anchor="end" font-weight="normal" fill="#222" >150</text>
<line x1="359.09999999999997" y1="335.38" x2="361.7" y2="335.38" stroke="#666" stroke-width="0.9"/>
<line x1="570.3000000000001" y1="335.38" x2="572.7" y2="335.38" stroke="#666" stroke-width="0.9"/>
<text x="354.10" y="338.48" font-size="8.6" text-anchor="end" font-weight="normal" fill="#222" >200</text>
<line x1="359.09999999999997" y1="307.00" x2="361.7" y2="307.00" stroke="#666" stroke-width="0.9"/>
<line x1="570.3000000000001" y1="307.00" x2="572.7" y2="307.00" stroke="#666" stroke-width="0.9"/>
<text x="354.10" y="310.10" font-size="8.6" text-anchor="end" font-weight="normal" fill="#222" >250</text>
<line x1="361.7" y1="463.09" x2="363.5" y2="463.09" stroke="#666" stroke-width="0.8"/>
<line x1="570.9000000000001" y1="463.09" x2="572.7" y2="463.09" stroke="#666" stroke-width="0.8"/>
<line x1="361.7" y1="434.71" x2="363.5" y2="434.71" stroke="#666" stroke-width="0.8"/>
<line x1="570.9000000000001" y1="434.71" x2="572.7" y2="434.71" stroke="#666" stroke-width="0.8"/>
<line x1="361.7" y1="406.33" x2="363.5" y2="406.33" stroke="#666" stroke-width="0.8"/>
<line x1="570.9000000000001" y1="406.33" x2="572.7" y2="406.33" stroke="#666" stroke-width="0.8"/>
<line x1="361.7" y1="377.95" x2="363.5" y2="377.95" stroke="#666" stroke-width="0.8"/>
<line x1="570.9000000000001" y1="377.95" x2="572.7" y2="377.95" stroke="#666" stroke-width="0.8"/>
<line x1="361.7" y1="349.57" x2="363.5" y2="349.57" stroke="#666" stroke-width="0.8"/>
<line x1="570.9000000000001" y1="349.57" x2="572.7" y2="349.57" stroke="#666" stroke-width="0.8"/>
<line x1="361.7" y1="321.19" x2="363.5" y2="321.19" stroke="#666" stroke-width="0.8"/>
<line x1="570.9000000000001" y1="321.19" x2="572.7" y2="321.19" stroke="#666" stroke-width="0.8"/>
<line x1="377.00" y1="463.2" x2="377.00" y2="465.8" stroke="#666" stroke-width="0.9"/>
<line x1="377.00" y1="293.2" x2="377.00" y2="295.59999999999997" stroke="#666" stroke-width="0.9"/>
<text x="377.00" y="477.30" font-size="8.6" text-anchor="middle" font-weight="normal" fill="#222" >0</text>
<line x1="407.10" y1="463.2" x2="407.10" y2="465.8" stroke="#666" stroke-width="0.9"/>
<line x1="407.10" y1="293.2" x2="407.10" y2="295.59999999999997" stroke="#666" stroke-width="0.9"/>
<text x="407.10" y="477.30" font-size="8.6" text-anchor="middle" font-weight="normal" fill="#222" >1</text>
<line x1="437.20" y1="463.2" x2="437.20" y2="465.8" stroke="#666" stroke-width="0.9"/>
<line x1="437.20" y1="293.2" x2="437.20" y2="295.59999999999997" stroke="#666" stroke-width="0.9"/>
<text x="437.20" y="477.30" font-size="8.6" text-anchor="middle" font-weight="normal" fill="#222" >2</text>
<line x1="467.30" y1="463.2" x2="467.30" y2="465.8" stroke="#666" stroke-width="0.9"/>
<line x1="467.30" y1="293.2" x2="467.30" y2="295.59999999999997" stroke="#666" stroke-width="0.9"/>
<text x="467.30" y="477.30" font-size="8.6" text-anchor="middle" font-weight="normal" fill="#222" >3</text>
<line x1="497.40" y1="463.2" x2="497.40" y2="465.8" stroke="#666" stroke-width="0.9"/>
<line x1="497.40" y1="293.2" x2="497.40" y2="295.59999999999997" stroke="#666" stroke-width="0.9"/>
<text x="497.40" y="477.30" font-size="8.6" text-anchor="middle" font-weight="normal" fill="#222" >4</text>
<line x1="527.50" y1="463.2" x2="527.50" y2="465.8" stroke="#666" stroke-width="0.9"/>
<line x1="527.50" y1="293.2" x2="527.50" y2="295.59999999999997" stroke="#666" stroke-width="0.9"/>
<line x1="557.60" y1="463.2" x2="557.60" y2="465.8" stroke="#666" stroke-width="0.9"/>
<line x1="557.60" y1="293.2" x2="557.60" y2="295.59999999999997" stroke="#666" stroke-width="0.9"/>
<line x1="392.05" y1="461.4" x2="392.05" y2="463.2" stroke="#666" stroke-width="0.8"/>
<line x1="392.05" y1="293.2" x2="392.05" y2="295.0" stroke="#666" stroke-width="0.8"/>
<line x1="422.15" y1="461.4" x2="422.15" y2="463.2" stroke="#666" stroke-width="0.8"/>
<line x1="422.15" y1="293.2" x2="422.15" y2="295.0" stroke="#666" stroke-width="0.8"/>
<line x1="452.25" y1="461.4" x2="452.25" y2="463.2" stroke="#666" stroke-width="0.8"/>
<line x1="452.25" y1="293.2" x2="452.25" y2="295.0" stroke="#666" stroke-width="0.8"/>
<line x1="482.35" y1="461.4" x2="482.35" y2="463.2" stroke="#666" stroke-width="0.8"/>
<line x1="482.35" y1="293.2" x2="482.35" y2="295.0" stroke="#666" stroke-width="0.8"/>
<line x1="512.45" y1="461.4" x2="512.45" y2="463.2" stroke="#666" stroke-width="0.8"/>
<line x1="512.45" y1="293.2" x2="512.45" y2="295.0" stroke="#666" stroke-width="0.8"/>
<line x1="542.55" y1="461.4" x2="542.55" y2="463.2" stroke="#666" stroke-width="0.8"/>
<line x1="542.55" y1="293.2" x2="542.55" y2="295.0" stroke="#666" stroke-width="0.8"/>
<text x="465.70" y="490.50" font-size="8.6" text-anchor="middle" font-weight="normal" fill="#222" >Evolution</text>
<text transform="translate(333.6,379.8) rotate(-90)" font-size="8.6" text-anchor="middle" fill="#222">PI</text>
<polyline points="377.00,448.90 407.10,417.34 437.20,405.82 467.30,395.66 497.40,367.96 527.50,319.49 557.60,309.27" fill="none" stroke="#6e6e6e" stroke-width="1.0" stroke-opacity="1"/>
<rect x="375.10" y="447.00" width="3.80" height="3.80" fill="#000" stroke="#000" stroke-width="0.2"/>
<rect x="405.20" y="415.44" width="3.80" height="3.80" fill="#000" stroke="#000" stroke-width="0.2"/>
<rect x="435.30" y="403.92" width="3.80" height="3.80" fill="#000" stroke="#000" stroke-width="0.2"/>
<rect x="465.40" y="393.76" width="3.80" height="3.80" fill="#000" stroke="#000" stroke-width="0.2"/>
<rect x="495.50" y="366.06" width="3.80" height="3.80" fill="#000" stroke="#000" stroke-width="0.2"/>
<rect x="525.60" y="317.59" width="3.80" height="3.80" fill="#000" stroke="#000" stroke-width="0.2"/>
<rect x="555.70" y="307.37" width="3.80" height="3.80" fill="#000" stroke="#000" stroke-width="0.2"/>
<polyline points="377.00,414.84 407.10,392.14 437.20,366.60 467.30,365.07 497.40,327.21 527.50,318.35 557.60,309.27" fill="none" stroke="#cc7070" stroke-width="1.0" stroke-opacity="1"/>
<circle cx="377.00" cy="414.84" r="2.40" fill="#961e2c" stroke="#d05050" stroke-width="0.5"/>
<circle cx="407.10" cy="392.14" r="2.40" fill="#961e2c" stroke="#d05050" stroke-width="0.5"/>
<circle cx="437.20" cy="366.60" r="2.40" fill="#961e2c" stroke="#d05050" stroke-width="0.5"/>
<circle cx="467.30" cy="365.07" r="2.40" fill="#961e2c" stroke="#d05050" stroke-width="0.5"/>
<circle cx="497.40" cy="327.21" r="2.40" fill="#961e2c" stroke="#d05050" stroke-width="0.5"/>
<circle cx="527.50" cy="318.35" r="2.40" fill="#961e2c" stroke="#d05050" stroke-width="0.5"/>
<circle cx="557.60" cy="309.27" r="2.40" fill="#961e2c" stroke="#d05050" stroke-width="0.5"/>
<polyline points="377.00,361.66 407.10,328.00 437.20,312.28 467.30,310.52" fill="none" stroke="#7888c8" stroke-width="1.0" stroke-opacity="1"/>
<path d="M377.00,359.24 L379.42,363.38 L374.58,363.38 Z" fill="#1c1c64" stroke="#1c1c64" stroke-width="0.3" stroke-linejoin="miter"/>
<path d="M407.10,325.59 L409.52,329.73 L404.69,329.73 Z" fill="#1c1c64" stroke="#1c1c64" stroke-width="0.3" stroke-linejoin="miter"/>
<path d="M437.20,309.86 L439.62,314.00 L434.78,314.00 Z" fill="#1c1c64" stroke="#1c1c64" stroke-width="0.3" stroke-linejoin="miter"/>
<path d="M467.30,308.10 L469.72,312.24 L464.88,312.24 Z" fill="#1c1c64" stroke="#1c1c64" stroke-width="0.3" stroke-linejoin="miter"/>
<polyline points="441.40,426.70 459.70,426.70" fill="none" stroke="#6e6e6e" stroke-width="1.0" stroke-opacity="1"/>
<rect x="449.10" y="425.10" width="3.20" height="3.20" fill="#000" stroke="#000" stroke-width="0.2"/>
<text x="463.90" y="429.30" font-size="7.25" text-anchor="start" font-weight="normal" fill="#222" >PI of No Island Diaphragm</text>
<polyline points="441.40,436.55 459.70,436.55" fill="none" stroke="#cc7070" stroke-width="1.0" stroke-opacity="1"/>
<circle cx="450.70" cy="436.55" r="1.90" fill="#a02a32" stroke="#d05050" stroke-width="0.5"/>
<text x="463.90" y="439.15" font-size="7.25" text-anchor="start" font-weight="normal" fill="#222" >PI of Square Island Diaphragm</text>
<polyline points="441.40,446.40 459.70,446.40" fill="none" stroke="#7888c8" stroke-width="1.0" stroke-opacity="1"/>
<path d="M450.70,444.30 L452.80,447.90 L448.60,447.90 Z" fill="#1e1e6e" stroke="#1e1e6e" stroke-width="0.3" stroke-linejoin="miter"/>
<text x="463.90" y="449.00" font-size="7.25" text-anchor="start" font-weight="normal" fill="#222" >PI of Cross Island Diaphragm</text>
<g fill="none" stroke="#777" stroke-width="0.8" stroke-dasharray="0.9,1.9"><ellipse cx="529.2" cy="473.2" rx="5.6" ry="5.2"/><ellipse cx="537.6" cy="476.4" rx="6.0" ry="5.6"/></g>
<text x="552.0" y="480.5" font-size="13.6" fill="#e8e8e8" style="stroke:#3a3a3a;stroke-width:0.55px" letter-spacing="0.3">MEMS</text>
<path d="M608.6,485 L612,482 L612,488 Z" fill="#888"/>
</svg></div>
</body></html>
